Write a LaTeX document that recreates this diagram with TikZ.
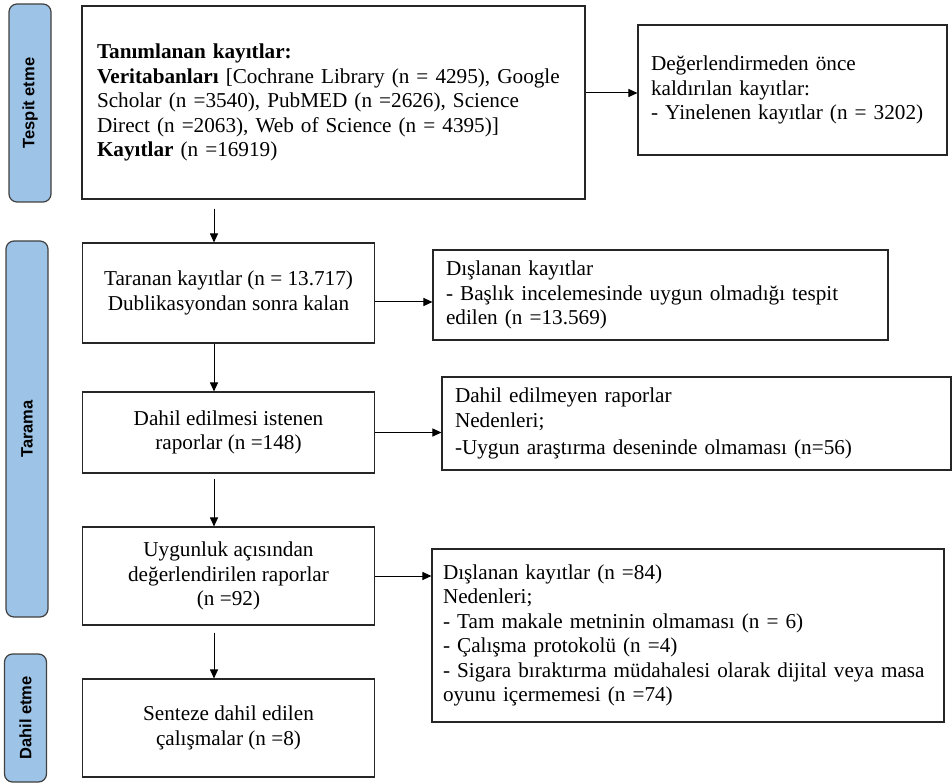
\documentclass[tikz,border=0pt]{standalone}
\usepackage{fontspec}
\setmainfont{Liberation Serif}
\newfontfamily\sidefont{Liberation Sans}
\usetikzlibrary{arrows.meta}
\definecolor{phaseblue}{RGB}{157,195,230}

\begin{document}
\begin{tikzpicture}[x=1pt, y=-1pt,
	box/.style={draw=black!85, line width=1.1pt, rectangle, inner sep=0pt, font=\fontsize{21.2}{24.5}\selectfont},
	mainbox/.style={box, minimum width=292pt, align=center},
	sidebox/.style={box, align=left, text width=#1},
	phase/.style={draw=black!75, line width=1.2pt, fill=phaseblue, rounded corners=8pt, rotate=90, minimum height=42pt, inner sep=0pt, font=\sidefont\bfseries\fontsize{16.5}{19}\selectfont},
	arr/.style={-{Triangle[length=9pt, width=8pt]}, line width=1pt}]
	\useasboundingbox (0,0) rectangle (952,783);
	\node[phase, minimum width=198pt] (tespit) at (30,103) {Tespit etme};
	\node[phase, minimum width=376pt] (tarama) at (27,429) {Tarama};
	\node[phase, minimum width=128pt] (dahil) at (25.5,718) {Dahil etme};
	\node[sidebox=473pt, minimum width=503pt, minimum height=193pt] (ident) at (333.5,102.5) {\textbf{Tanımlanan kayıtlar:}\\\textbf{Veritabanları} [Cochrane Library (n = 4295), Google\\Scholar (n =3540), PubMED (n =2626), Science\\Direct (n =2063), Web of Science (n = 4395)]\\\textbf{Kayıtlar} (n =16919)};
	\node[sidebox=283pt, minimum width=309pt, minimum height=130pt] (removed) at (792.5,90) {Değerlendirmeden önce\\kaldırılan kayıtlar:\\- Yinelenen kayıtlar (n = 3202)};
	\node[mainbox, minimum height=100pt] (screened) at (228.5,293) {Taranan kayıtlar (n = 13.717)\\Dublikasyondan sonra kalan};
	\node[sidebox=429pt, minimum width=455pt, minimum height=90pt] (excl) at (660.5,295) {Dışlanan kayıtlar\\- Başlık incelemesinde uygun olmadığı tespit\\edilen (n =13.569)};
	\node[sidebox=483pt, minimum width=509pt, minimum height=93pt] (notret) at (696.5,423.5) {Dahil edilmeyen raporlar\\Nedenleri;\\[3pt]-Uygun araştırma deseninde olmaması (n=56)};
	\node[mainbox, minimum height=81pt] (sought) at (228.5,432.5) {Dahil edilmesi istenen\\raporlar (n =148)};
	\node[mainbox, minimum height=98pt] (assessed) at (228.5,576) {Uygunluk açısından\\değerlendirilen raporlar\\(n =92)};
	\node[sidebox=490pt, minimum width=512pt, minimum height=173pt] (reasons) at (688,635.5) {Dışlanan kayıtlar (n =84)\\Nedenleri;\\- Tam makale metninin olmaması (n = 6)\\- Çalışma protokolü (n =4)\\- Sigara bıraktırma müdahalesi olarak dijital veya masa\\oyunu içermemesi (n =74)};
	\node[mainbox, minimum height=98pt] (included) at (228.5,728) {Senteze dahil edilen\\çalışmalar (n =8)};
	\coordinate (col) at (214,0);
	\draw[arr, shorten <=9pt] (ident.south -| col) -- (screened.north -| col);
	\draw[arr] (screened.south -| col) -- (sought.north -| col);
	\draw[arr, shorten <=5pt] (sought.south -| col) -- (assessed.north -| col);
	\draw[arr, shorten <=7pt] (assessed.south -| col) -- (included.north -| col);
	\draw[arr] ([yshift=9.5pt]ident.east) -- ([yshift=9.5pt]ident.east -| removed.west);
	\draw[arr] ([yshift=-9pt]screened.east) -- ([yshift=-9pt]screened.east -| excl.west);
	\draw[arr] (sought.east) -- (sought.east -| notret.west);
	\draw[arr] (assessed.east) -- (assessed.east -| reasons.west);
\end{tikzpicture}
\end{document}
